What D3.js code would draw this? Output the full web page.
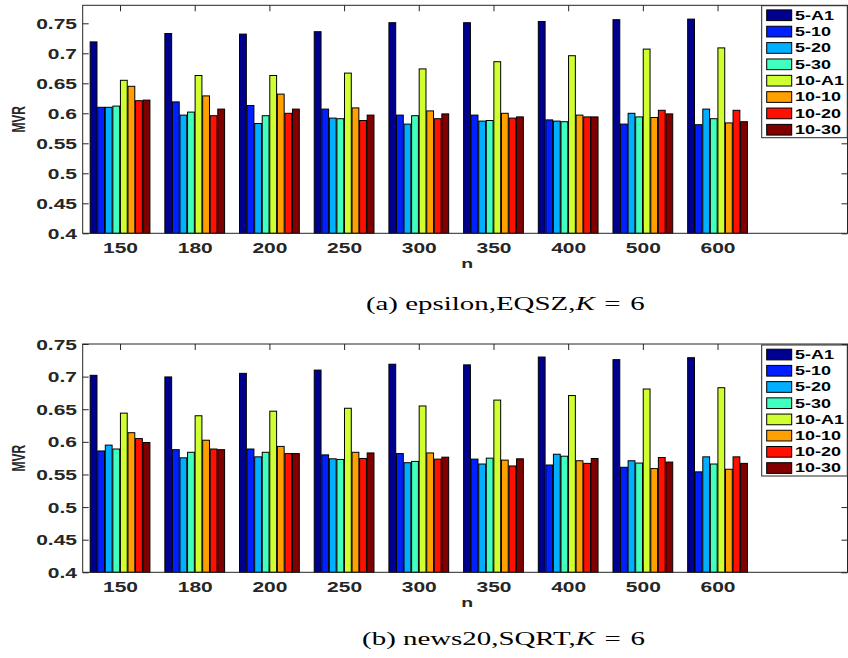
<!DOCTYPE html>
<html>
<head>
<meta charset="utf-8">
<script src="https://cdn.jsdelivr.net/npm/d3@7"></script>
<style>
  html, body { margin: 0; padding: 0; background: #fff; }
  svg { display: block; }
</style>
</head>
<body>
<svg id="chart" width="848" height="658"></svg>
<script>
// ---- data -------------------------------------------------------------
const nLabels = ["150", "180", "200", "250", "300", "350", "400", "500", "600"];
const seriesNames = ["5-A1", "5-10", "5-20", "5-30", "10-A1", "10-10", "10-20", "10-30"];
const seriesColors = ["#00008F", "#0020FF", "#00AFFF", "#40FFBF", "#CFFF30", "#FF9F00", "#FF1000", "#800000"];
const yTickValues = [0.4, 0.45, 0.5, 0.55, 0.6, 0.65, 0.7, 0.75];

// MVR per n (rows) for each setting (columns, same order as seriesNames)
const epsilonMVR = [
  [0.719, 0.610, 0.610, 0.612, 0.655, 0.645, 0.621, 0.622],
  [0.733, 0.619, 0.597, 0.602, 0.663, 0.629, 0.596, 0.607],
  [0.732, 0.613, 0.583, 0.596, 0.663, 0.632, 0.600, 0.607],
  [0.736, 0.607, 0.592, 0.591, 0.667, 0.609, 0.588, 0.597],
  [0.751, 0.597, 0.582, 0.596, 0.674, 0.604, 0.591, 0.599],
  [0.751, 0.597, 0.587, 0.588, 0.686, 0.600, 0.592, 0.594],
  [0.753, 0.589, 0.587, 0.586, 0.696, 0.597, 0.594, 0.594],
  [0.756, 0.582, 0.600, 0.594, 0.707, 0.593, 0.605, 0.599],
  [0.757, 0.581, 0.607, 0.591, 0.709, 0.584, 0.605, 0.586]
];
const news20MVR = [
  [0.702, 0.586, 0.595, 0.589, 0.644, 0.614, 0.605, 0.599],
  [0.6995, 0.588, 0.5755, 0.584, 0.640, 0.6025, 0.589, 0.588],
  [0.705, 0.589, 0.577, 0.584, 0.647, 0.593, 0.582, 0.582],
  [0.710, 0.580, 0.574, 0.573, 0.6515, 0.584, 0.5745, 0.583],
  [0.719, 0.582, 0.568, 0.570, 0.655, 0.583, 0.5735, 0.5765],
  [0.718, 0.5735, 0.566, 0.575, 0.664, 0.572, 0.563, 0.574],
  [0.730, 0.5645, 0.581, 0.578, 0.671, 0.571, 0.567, 0.5745],
  [0.726, 0.561, 0.571, 0.5675, 0.681, 0.559, 0.576, 0.569],
  [0.729, 0.554, 0.577, 0.566, 0.683, 0.558, 0.577, 0.567]
];

// ---- layout ----------------------------------------------------------
const svg = d3.select("#chart");
const SX = 1.5;                       // horizontal glyph stretch
const axisColor = "#262626";
const sansFont = "'Liberation Sans', Arial, Helvetica, sans-serif";
const serifFont = "'Liberation Serif', 'Times New Roman', serif";
const plotLeft = 82.7, plotRight = 847.5;
const legendLeft = 761.7, legendRight = 847.3;
const tickLen = 6;

const panels = [
  { rows: epsilonMVR, yMax: 0.78, top: 5.3, bottom: 233.3,
    legendTop: 5.7, legendBottom: 137.7,
    caption: ["(a) epsilon,EQSZ,", "K", "\u2004=\u20046"], captionY: 309.5, captionX: 505.3, captionW: 279 },
  { rows: news20MVR, yMax: 0.75, top: 344, bottom: 572.3,
    legendTop: 345, legendBottom: 476,
    caption: ["(b) news20,SQRT,", "K", "\u2004=\u20046"], captionY: 644.5, captionX: 503.5, captionW: 283 }
];

const x = d3.scaleLinear().domain([0.5, 10.74]).range([plotLeft, plotRight]);
const groupW = x(1.4) - x(0.6);
const inner = d3.scaleBand().domain(seriesNames).range([-groupW / 2, groupW / 2]).paddingInner(0.1);
const fmt = d3.format("~g");

panels.forEach(p => {
  const y = d3.scaleLinear().domain([0.4, p.yMax]).range([p.bottom, p.top]);
  const g = svg.append("g");

  const styleAxis = sel => {
    sel.select(".domain").remove();
    sel.selectAll(".tick line").attr("stroke", axisColor).attr("stroke-width", 1);
    sel.selectAll(".tick text").attr("fill", axisColor)
      .attr("font-family", sansFont).attr("font-weight", "bold");
  };

  // left axis with labels
  g.append("g").attr("transform", `translate(${plotLeft},0)`)
    .call(d3.axisLeft(y).tickValues(yTickValues).tickFormat(fmt).tickSize(-tickLen).tickPadding(5.7))
    .call(styleAxis)
    .call(s => s.selectAll(".tick text")
      .attr("font-size", 14).attr("x", -5.7 / SX).attr("dy", "0.36em")
      .attr("transform", `scale(${SX},1)`));

  // right axis, ticks only
  g.append("g").attr("transform", `translate(${plotRight},0)`)
    .call(d3.axisRight(y).tickValues(yTickValues).tickFormat("").tickSize(-tickLen))
    .call(styleAxis);

  // top axis, ticks only
  g.append("g").attr("transform", `translate(0,${p.top})`)
    .call(d3.axisTop(x).tickValues(d3.range(1, nLabels.length + 1)).tickFormat("").tickSize(-tickLen))
    .call(styleAxis);

  // bottom axis with n labels
  g.append("g").attr("transform", `translate(0,${p.bottom})`)
    .call(d3.axisBottom(x).tickValues(d3.range(1, nLabels.length + 1))
      .tickFormat(i => nLabels[i - 1]).tickSize(-tickLen))
    .call(styleAxis)
    .call(s => s.selectAll(".tick text")
      .attr("font-size", 14).attr("y", 19.5).attr("dy", 0)
      .attr("transform", `scale(${SX},1)`));

  // grouped bars
  g.append("g").selectAll("g").data(p.rows).join("g")
    .attr("transform", (r, i) => `translate(${x(i + 1)},0)`)
    .selectAll("rect")
    .data(r => r.map((v, j) => ({ v, s: seriesNames[j], c: seriesColors[j] })))
    .join("rect")
    .attr("x", d => inner(d.s))
    .attr("width", inner.bandwidth())
    .attr("y", d => y(d.v))
    .attr("height", d => p.bottom - y(d.v))
    .attr("fill", d => d.c)
    .attr("stroke", "#000")
    .attr("stroke-width", 1);

  // axes box
  g.append("rect")
    .attr("x", plotLeft).attr("y", p.top)
    .attr("width", plotRight - plotLeft).attr("height", p.bottom - p.top)
    .attr("fill", "none").attr("stroke", axisColor).attr("stroke-width", 1);

  // axis titles
  g.append("text")
    .attr("transform", `translate(${(plotLeft + plotRight) / 2 + 2},${p.bottom + 35}) scale(${SX},1)`)
    .attr("text-anchor", "middle").attr("font-family", sansFont).attr("font-weight", "bold")
    .attr("font-size", 13).attr("fill", axisColor).text("n");

  g.append("text")
    .attr("transform", `translate(24.8,${(p.top + p.bottom) / 2}) scale(${SX},1) rotate(-90)`)
    .attr("text-anchor", "middle").attr("font-family", sansFont).attr("font-weight", "bold")
    .attr("font-size", 12).attr("fill", axisColor).text("MVR");

  // legend
  const lg = g.append("g");
  lg.append("rect")
    .attr("x", legendLeft).attr("y", p.legendTop)
    .attr("width", legendRight - legendLeft).attr("height", p.legendBottom - p.legendTop)
    .attr("fill", "#fff").attr("stroke", axisColor).attr("stroke-width", 1);
  const ly = d3.scalePoint().domain(seriesNames).range([p.legendTop + 9.5, p.legendBottom - 8]);
  const items = lg.selectAll("g.item").data(seriesNames).join("g").attr("class", "item");
  items.append("rect")
    .attr("x", 766.7).attr("y", d => ly(d) - 5.3)
    .attr("width", 25).attr("height", 10.7)
    .attr("fill", (d, i) => seriesColors[i]).attr("stroke", "#000").attr("stroke-width", 1);
  items.append("text")
    .attr("transform", d => `translate(795,${ly(d) + 4.4}) scale(${SX},1)`)
    .attr("font-family", sansFont).attr("font-weight", "bold").attr("font-size", 12)
    .attr("fill", "#000").text(d => d);

  // caption
  const cap = svg.append("text")
    .attr("text-anchor", "middle")
    .attr("font-family", serifFont).attr("font-size", 19).attr("fill", "#000");
  cap.append("tspan").text(p.caption[0]);
  cap.append("tspan").attr("font-style", "italic").text(p.caption[1]);
  cap.append("tspan").text(p.caption[2]);
  const w0 = cap.node().getBBox().width || 1;
  cap.attr("transform", `translate(${p.captionX},${p.captionY}) scale(${p.captionW / w0},1)`);
});
</script>
</body>
</html>
